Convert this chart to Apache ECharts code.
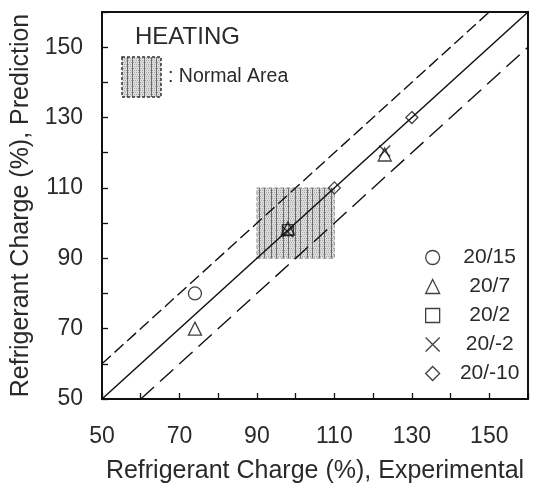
<!DOCTYPE html>
<html><head><meta charset="utf-8">
<script src="https://cdn.jsdelivr.net/npm/echarts@6/dist/echarts.min.js"></script>
<style>html,body{margin:0;padding:0;background:#fff}#c{width:537px;height:489px}</style>
</head><body><div id="c"></div>
<script>
// ---- data ----
const seriesNames = ['20/15', '20/7', '20/2', '20/-2', '20/-10'];
const s2015 = [[74, 80]];
const s207 = [[74, 70], [98, 98.5], [123, 119.5]];
const s202 = [[98, 98]];
const s20m2 = [[98, 97.5], [123, 120.5]];
const s20m10 = [[110, 110], [130, 130]];
const perfectLine = [[50, 50], [160, 160]];
const upperLine = [[50, 60], [150, 160]];
const lowerLine = [[60, 50], [160, 150]];
const normalArea = [[90, 90], [110, 110]];
const tickLabels = [50, 70, 90, 110, 130, 150];
const axisMin = 50, axisMax = 160, axisStep = 10;

function makePattern() {
  const c = document.createElement('canvas');
  c.width = 12; c.height = 6;
  const g = c.getContext('2d');
  g.fillStyle = '#dcdcdc'; g.fillRect(0, 0, 12, 6);
  g.fillStyle = '#a8a8a8';
  for (let i = 0; i < 12; i += 2) for (let j = 0; j < 6; j += 2) { g.fillRect(i + (j % 4 ? 1 : 0), j, 1, 1); }
  g.fillStyle = '#6a6a6a'; g.fillRect(0, 0, 1, 6); g.fillRect(7, 0, 1, 6);
  return c;
}
const pat = makePattern();
const font = 'Liberation Sans, Arial, sans-serif';
const txt = '#2a2a2a';
const sym = {
  '20/15': 'circle', '20/7': 'triangle', '20/2': 'rect',
  '20/-2': 'path://M0,0L10,10M10,0L0,10', '20/-10': 'diamond'
};
const ptStyle = { color: 'transparent', borderColor: '#111', borderWidth: 1.3 };
function pts(name, data, size) {
  return { name, type: 'scatter', data, symbol: sym[name], symbolSize: size, itemStyle: ptStyle, z: 5 };
}
const chart = echarts.init(document.getElementById('c'));
const labelFmt = v => (tickLabels.indexOf(v) >= 0 ? String(v) : '');
const axisCommon = {
  type: 'value', min: axisMin, max: axisMax, interval: axisStep,
  axisLine: { show: true, lineStyle: { color: '#111', width: 2 } },
  axisTick: { show: true, inside: true, length: 6, lineStyle: { color: '#111', width: 1.3 } },
  splitLine: { show: false },
  nameLocation: 'middle', nameTextStyle: { color: txt, fontSize: 25, fontFamily: font }
};
chart.setOption({
  animation: false,
  grid: { left: 102, right: 9, top: 12, bottom: 90, show: true, borderColor: '#111', borderWidth: 2 },
  xAxis: Object.assign({}, axisCommon, {
    name: 'Refrigerant Charge (%), Experimental', nameGap: 60,
    axisLabel: { formatter: labelFmt, color: txt, fontSize: 23, fontFamily: font, margin: 26 }
  }),
  yAxis: Object.assign({}, axisCommon, {
    name: 'Refrigerant Charge (%), Prediction', nameGap: 68,
    axisLabel: { formatter: labelFmt, color: txt, fontSize: 23, fontFamily: font, margin: 19 }
  }),
  legend: {
    orient: 'vertical', left: 420, top: 242, itemGap: 8, itemWidth: 14, itemHeight: 14,
    data: seriesNames.map(n => ({ name: n, icon: sym[n], itemStyle: ptStyle })),
    formatter: n => '{c|' + n + '}',
    textStyle: { color: txt, fontSize: 21, fontFamily: font, lineHeight: 21,
      rich: { c: { width: 90, align: 'center', fontSize: 21, fontFamily: font, color: txt, lineHeight: 21 } } }
  },
  graphic: [
    { type: 'text', left: 135, top: 25, style: { text: 'HEATING', font: '24px ' + font, fill: txt } },
    { type: 'rect', shape: { x: 122, y: 57, width: 39, height: 40 }, style: { fill: { image: pat, repeat: 'repeat' }, stroke: '#333', lineWidth: 1.5, lineDash: [3, 2] } },
    { type: 'text', left: 168, top: 67, style: { text: ': Normal Area', font: '19.5px ' + font, fill: txt } }
  ],
  series: [
    {
      type: 'line', data: perfectLine, symbol: 'none', silent: true,
      lineStyle: { color: '#111', width: 1.5 }, z: 3,
      markArea: {
        silent: true,
        itemStyle: { color: { image: pat, repeat: 'repeat' }, borderColor: '#999', borderWidth: 1, borderType: 'dashed' },
        data: [[{ coord: normalArea[0] }, { coord: normalArea[1] }]]
      }
    },
    { type: 'line', data: upperLine, symbol: 'none', silent: true, lineStyle: { color: '#111', width: 1.4, type: [12, 5] }, z: 3 },
    { type: 'line', data: lowerLine, symbol: 'none', silent: true, lineStyle: { color: '#111', width: 1.4, type: [18, 8] }, z: 3 },
    pts('20/15', s2015, 13),
    pts('20/7', s207, 13),
    pts('20/2', s202, 11),
    pts('20/-2', s20m2, 11),
    pts('20/-10', s20m10, 12)
  ]
});
</script></body></html>
